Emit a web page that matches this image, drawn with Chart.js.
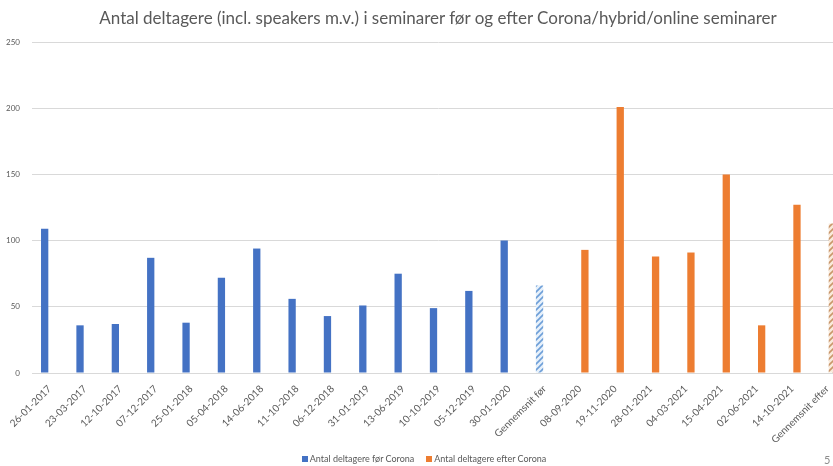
<!DOCTYPE html>
<html>
<head>
<meta charset="utf-8">
<script src="https://cdn.jsdelivr.net/npm/chart.js@4"></script>
<style>
  html, body { margin: 0; padding: 0; background: #fff; overflow: hidden; }
  #wrap { position: relative; width: 833px; height: 466px; overflow: hidden; }
  #title {
    position: absolute; top: 7px; left: 0; width: 876px; text-align: center;
    font-family: Lato, "Open Sans", sans-serif; font-size: 17px; color: #595959;
  }
  #slide { position: absolute; left: 824px; top: 453px; font-family: Lato, sans-serif; font-size: 11px; color: #8c8c8c; }
  #box { position: absolute; left: 0; top: 0; width: 845px; height: 466px; }
  #legend {
    position: absolute; top: 453px; left: 0; width: 848px; text-align: center;
    font-family: Lato, sans-serif; font-size: 9px; color: #595959; line-height: 12px;
  }
  #legend span.item { display: inline-block; margin: 0 6px; }
  #legend i { display: inline-block; width: 6px; height: 6px; margin-right: 2px; vertical-align: 0; }
</style>
</head>
<body>
<div id="wrap">
  <div id="box"><canvas id="barChart" width="845" height="466"></canvas></div>
  <div id="title">Antal deltagere (incl. speakers m.v.) i seminarer før og efter Corona/hybrid/online seminarer</div>
  <div id="legend"></div>
  <div id="slide">5</div>
</div>
<script>
// categories (dates of seminars + averages)
const labels = [
  "26-01-2017", "23-03-2017", "12-10-2017", "07-12-2017", "25-01-2018", "05-04-2018",
  "14-06-2018", "11-10-2018", "06-12-2018", "31-01-2019", "13-06-2019", "10-10-2019",
  "05-12-2019", "30-01-2020", "Gennemsnit før",
  "08-09-2020", "19-11-2020", "28-01-2021", "04-03-2021", "15-04-2021", "02-06-2021",
  "14-10-2021", "Gennemsnit efter"
];
const beforeValues = [109, 36, 37, 87, 38, 72, 94, 56, 43, 51, 75, 49, 62, 100, 66,
  null, null, null, null, null, null, null, null];
const afterValues = [null, null, null, null, null, null, null, null, null, null, null, null, null, null, null,
  93, 201, 88, 91, 150, 36, 127, 113];
const yTicks = [0, 50, 100, 150, 200, 250];
const averageLabels = ["Gennemsnit før", "Gennemsnit efter"];
const seriesNames = ["Antal deltagere før Corona", "Antal deltagere efter Corona"];

const blue = "#4472C4";
const orange = "#ED7D31";

// small striped pattern for the average bars
function makeStripes(bg, fg) {
  const c = document.createElement("canvas");
  c.width = 6;
  c.height = 6;
  const g = c.getContext("2d");
  g.fillStyle = bg;
  g.fillRect(0, 0, 6, 6);
  g.strokeStyle = fg;
  g.lineWidth = 1.6;
  g.beginPath();
  g.moveTo(0, 6); g.lineTo(6, 0);
  g.moveTo(-3, 3); g.lineTo(3, -3);
  g.moveTo(3, 9); g.lineTo(9, 3);
  g.stroke();
  return g.createPattern(c, "repeat");
}
const blueStripes = makeStripes("#e6f0fa", "#6e9fd8");
const orangeStripes = makeStripes("#f8eadb", "#c9976b");

const fillFor = (solid, stripes) => labels.map((l) => (averageLabels.includes(l) ? stripes : solid));

const ctx = document.getElementById("barChart").getContext("2d");
const chart = new Chart(ctx, {
  type: "bar",
  data: {
    labels: labels,
    datasets: [
      {
        label: seriesNames[0],
        data: beforeValues,
        backgroundColor: fillFor(blue, blueStripes),
        borderWidth: 0,
      },
      {
        label: seriesNames[1],
        data: afterValues,
        backgroundColor: fillFor(orange, orangeStripes),
        borderWidth: 0,
      },
    ],
  },
  options: {
    responsive: false,
    animation: false,
    devicePixelRatio: 1,
    categoryPercentage: 0.566,
    barPercentage: 0.73,
    layout: { padding: { top: 42, left: 0, right: 0, bottom: 18 } },
    scales: {
      x: {
        grid: { display: false },
        border: { display: true, color: "#d9d9d9" },
        ticks: {
          color: "#595959",
          font: { family: "Lato", size: 10 },
          minRotation: 45,
          maxRotation: 45,
          autoSkip: false,
          padding: 2,
        },
        afterFit: (scale) => { scale.height = 75; },
      },
      y: {
        min: 0,
        max: 250,
        afterBuildTicks: (scale) => { scale.ticks = yTicks.map((v) => ({ value: v })); },
        grid: { color: "#d9d9d9", drawTicks: false },
        border: { display: false },
        ticks: {
          color: "#595959",
          font: { family: "Lato", size: 8 },
          padding: 12,
        },
        afterFit: (scale) => { scale.width = 32; },
      },
    },
    plugins: {
      tooltip: { enabled: false },
      legend: { display: false },
    },
  },
});

// legend with solid swatches (the average bars are only striped variants)
const legendEl = document.getElementById("legend");
[blue, orange].forEach((col, i) => {
  const item = document.createElement("span");
  item.className = "item";
  const sw = document.createElement("i");
  sw.style.background = col;
  item.appendChild(sw);
  item.appendChild(document.createTextNode(chart.data.datasets[i].label));
  legendEl.appendChild(item);
});
</script>
</body>
</html>
